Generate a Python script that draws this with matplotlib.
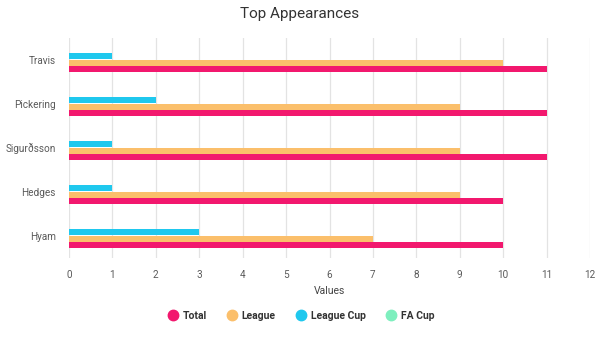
import matplotlib
matplotlib.use("Agg")
import matplotlib.pyplot as plt
import numpy as np
from matplotlib.lines import Line2D

plt.rcParams['font.family'] = ['Roboto', 'DejaVu Sans']

players = ["Travis", "Pickering", "Sigurðsson", "Hedges", "Hyam"]
series_names = ["Total", "League", "League Cup", "FA Cup"]
total = [11, 11, 11, 10, 10]
league = [10, 9, 9, 9, 7]
league_cup = [1, 2, 1, 1, 3]
fa_cup = [0, 0, 0, 0, 0]
colors = ["#f2186e", "#fbbf6b", "#1fc8ee", "#7eefbe"]

W, H = 599, 337
fig = plt.figure(figsize=(W/100, H/100), dpi=100)
ax = fig.add_axes([69/W, 1-257.5/H, (590-69)/W, 220/H])

y = np.arange(len(players))
h = 0.145
data = [total, league, league_cup, fa_cup]
for j, (vals, c) in enumerate(zip(data, colors)):
    ax.barh(y + (1.5 - j) * h, vals, height=h*0.92, color=c, zorder=3)

ax.set_ylim(len(players) - 0.5, -0.5)
ax.set_xlim(0, 12)
ax.set_xticks(range(0, 13))
ax.set_yticks(y)
ax.set_yticklabels(players)
ax.tick_params(axis='both', length=0, colors='#5a5a5a', labelsize=7.2)
ax.tick_params(axis='x', pad=9)
ax.tick_params(axis='y', pad=9.5)
ax.grid(axis='x', color='#e3e3e3', linewidth=0.9, zorder=0)
for s in ax.spines.values():
    s.set_visible(False)
ax.set_xlabel("Values", fontsize=7.5, color='#444444', labelpad=4)

fig.text(0.5, 1-14/H, "Top Appearances", ha='center', va='center', fontsize=11, color='#333333')

handles = [Line2D([0], [0], marker='o', linestyle='', markersize=7.5, markerfacecolor=c,
                  markeredgecolor=c) for c in colors]
leg = fig.legend(handles, series_names, loc='center', bbox_to_anchor=(0.5, 1-316/H),
                 ncol=4, frameon=False, handletextpad=0.2, columnspacing=1.65,
                 handlelength=1.5, prop={'weight': 'bold', 'size': 7.5})
for t in leg.get_texts():
    t.set_color('#333333')

fig.savefig("out.png", dpi=100)
